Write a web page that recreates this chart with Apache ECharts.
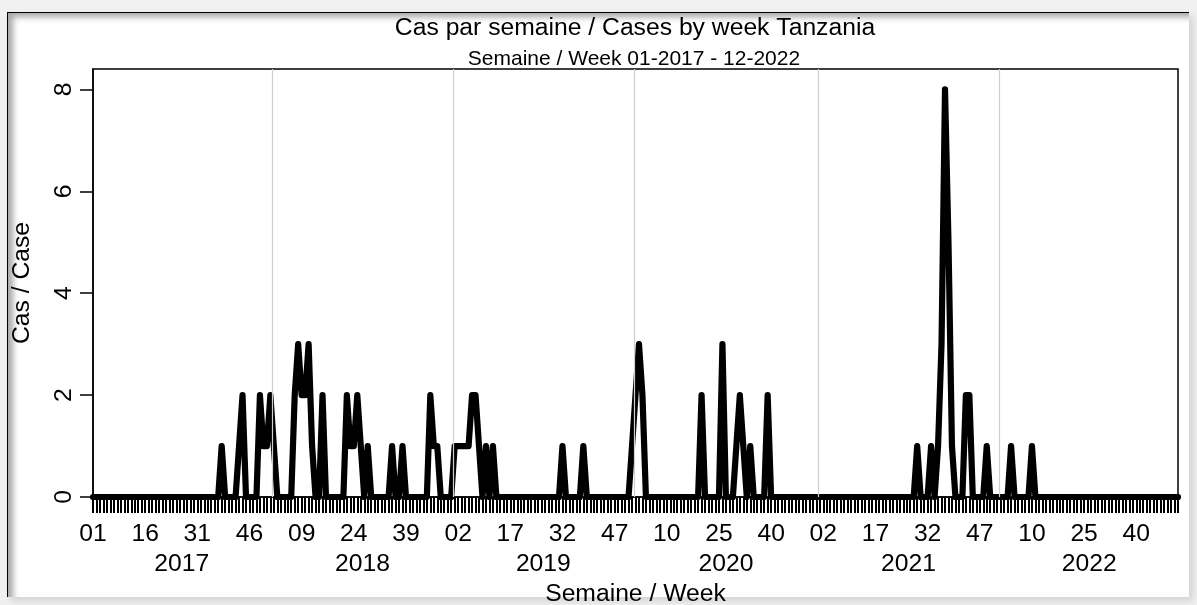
<!DOCTYPE html>
<html>
<head>
<meta charset="utf-8">
<title>Cas par semaine / Cases by week Tanzania</title>
<script src="https://cdn.jsdelivr.net/npm/echarts@6/dist/echarts.min.js"></script>
<style>
  html, body { margin: 0; padding: 0; width: 1197px; height: 605px; overflow: hidden; background: #f0f0f0; }
  #panel {
    position: absolute; left: 7px; top: 12px; width: 1181px; height: 584px;
    background: #fff;
    border-left: 1px solid #000; border-top: 1px solid #000;
    box-shadow: inset 7px 6px 6px -2px rgba(0,0,0,0.35), 4px 4px 7px rgba(0,0,0,0.12);
  }
  #chart { position: absolute; left: 0; top: 0; width: 1197px; height: 605px; }
</style>
</head>
<body>
<div id="panel"></div>
<div id="chart"></div>
<script>
// Weekly case counts, one array per epidemiological year
const cases2017 = [
  0,0,0,0,0,0,0,0,0,0,
  0,0,0,0,0,0,0,0,0,0,
  0,0,0,0,0,0,0,0,0,0,
  0,0,0,0,0,0,0,1,0,0,
  0,0,1,2,0,0,0,0,2,1,
  1,2
];
const cases2018 = [
  1,0,0,0,0,0,2,3,2,2,
  3,1,0,0,2,0,0,0,0,0,
  0,2,1,1,2,1,0,1,0,0,
  0,0,0,0,1,0,0,1,0,0,
  0,0,0,0,0,2,1,1,0,0,
  0,0
];
const cases2019 = [
  1,1,1,1,1,2,2,1,0,1,
  0,1,0,0,0,0,0,0,0,0,
  0,0,0,0,0,0,0,0,0,0,
  0,1,0,0,0,0,0,1,0,0,
  0,0,0,0,0,0,0,0,0,0,
  0,1
];
const cases2020 = [
  2,3,2,0,0,0,0,0,0,0,
  0,0,0,0,0,0,0,0,0,2,
  0,0,0,0,0,3,0,0,0,1,
  2,1,0,1,0,0,0,0,2,0,
  0,0,0,0,0,0,0,0,0,0,
  0,0,0
];
const cases2021 = [
  0,0,0,0,0,0,0,0,0,0,
  0,0,0,0,0,0,0,0,0,0,
  0,0,0,0,0,0,0,0,1,0,
  0,0,1,0,1,3,8,5,1,0,
  0,0,2,2,0,0,0,0,1,0,
  0,0
];
const cases2022 = [
  0,0,0,1,0,0,0,0,0,1,
  0,0,0,0,0,0,0,0,0,0,
  0,0,0,0,0,0,0,0,0,0,
  0,0,0,0,0,0,0,0,0,0,
  0,0,0,0,0,0,0,0,0,0,
  0,0
];

const years = ['2017', '2018', '2019', '2020', '2021', '2022'];
// Week number printed under every 15th week
const weekTicks = ['01','16','31','46','09','24','39','02','17','32','47','10','25','40','02','17','32','47','10','25','40'];
const yTicks = [0, 2, 4, 6, 8];

const yearly = [cases2017, cases2018, cases2019, cases2020, cases2021, cases2022];
const weekly = [].concat(...yearly);
const points = weekly.map((v, i) => [i, v]);
const lastIndex = weekly.length - 1;

// Year separators sit between the last week of a year and week 01 of the next;
// year captions sit at the middle of each year
const boundaries = [];
const yearMid = {};
let start = 0;
yearly.forEach((arr, k) => {
  yearMid[start + (arr.length - 1) / 2] = years[k];
  start += arr.length;
  if (k < yearly.length - 1) boundaries.push(start - 0.5);
});

const FONT = "'Liberation Sans', Arial, sans-serif";
const BIG = 24.7;

const chart = echarts.init(document.getElementById('chart'), null, { renderer: 'canvas' });
chart.setOption({
  animation: false,
  textStyle: { fontFamily: FONT, color: '#000' },
  title: [
    {
      text: 'Cas par semaine / Cases by week Tanzania',
      left: 630, top: 11, textAlign: 'center',
      textStyle: { fontSize: BIG, fontWeight: 'normal', color: '#000', fontFamily: FONT }
    },
    {
      text: 'Semaine / Week 01-2017 - 12-2022',
      left: 629, top: 44, textAlign: 'center',
      textStyle: { fontSize: 21, fontWeight: 'normal', color: '#000', fontFamily: FONT }
    }
  ],
  grid: {
    left: 93, right: 19, top: 69, bottom: 108,
    outerBoundsMode: 'none', containLabel: false,
    show: true, borderColor: '#000', borderWidth: 1.5, backgroundColor: 'transparent'
  },
  xAxis: [
    {
      type: 'value', min: 0, max: lastIndex, interval: 1, position: 'bottom',
      axisLine: { show: true, onZero: false, lineStyle: { color: '#000', width: 1.5 } },
      axisTick: { show: true, length: 16, lineStyle: { color: '#000', width: 2 } },
      splitLine: { show: false },
      axisLabel: {
        margin: 25, fontSize: BIG, color: '#000', fontFamily: FONT,
        showMinLabel: true, showMaxLabel: true,
        formatter: v => (v % 15 === 0 ? weekTicks[v / 15] : '')
      },
      name: 'Semaine / Week', nameLocation: 'middle', nameGap: 85,
      nameTextStyle: { fontSize: BIG, color: '#000', fontFamily: FONT }
    },
    {
      type: 'value', min: 0, max: lastIndex, interval: 0.5, position: 'bottom',
      axisLine: { show: false }, axisTick: { show: false }, splitLine: { show: false },
      axisLabel: {
        margin: 55, fontSize: BIG, color: '#000', fontFamily: FONT,
        showMinLabel: true, showMaxLabel: true,
        formatter: v => yearMid[v] || ''
      }
    }
  ],
  yAxis: {
    type: 'value', min: 0, max: 8.4,
    axisLine: { show: true, lineStyle: { color: '#000', width: 1.5 } },
    axisTick: { show: true, length: 13, customValues: yTicks, lineStyle: { color: '#000', width: 1.5 } },
    axisLabel: { customValues: yTicks, rotate: 90, margin: 16, fontSize: BIG, color: '#000', fontFamily: FONT },
    splitLine: { show: false },
    name: 'Cas / Case', nameLocation: 'middle', nameGap: 58, nameRotate: 90,
    nameTextStyle: { fontSize: BIG, color: '#000', fontFamily: FONT }
  },
  series: [
    {
      // year separators, drawn beneath the case line
      type: 'line', xAxisIndex: 0, data: points, z: 1,
      symbol: 'none', lineStyle: { opacity: 0, width: 0 }, silent: true,
      emphasis: { disabled: true },
      markLine: {
        silent: true, symbol: 'none', label: { show: false },
        lineStyle: { color: '#cfcfcf', width: 1.2, type: 'solid' },
        emphasis: { disabled: true },
        data: boundaries.map(b => ({ xAxis: b }))
      }
    },
    {
      name: 'Cas / Case', type: 'line', xAxisIndex: 0, data: points, z: 3,
      symbol: 'none', showSymbol: false, clip: false,
      emphasis: { disabled: true },
      lineStyle: { color: '#000', width: 6.2, cap: 'round', join: 'round' }
    }
  ]
});
</script>
</body>
</html>
